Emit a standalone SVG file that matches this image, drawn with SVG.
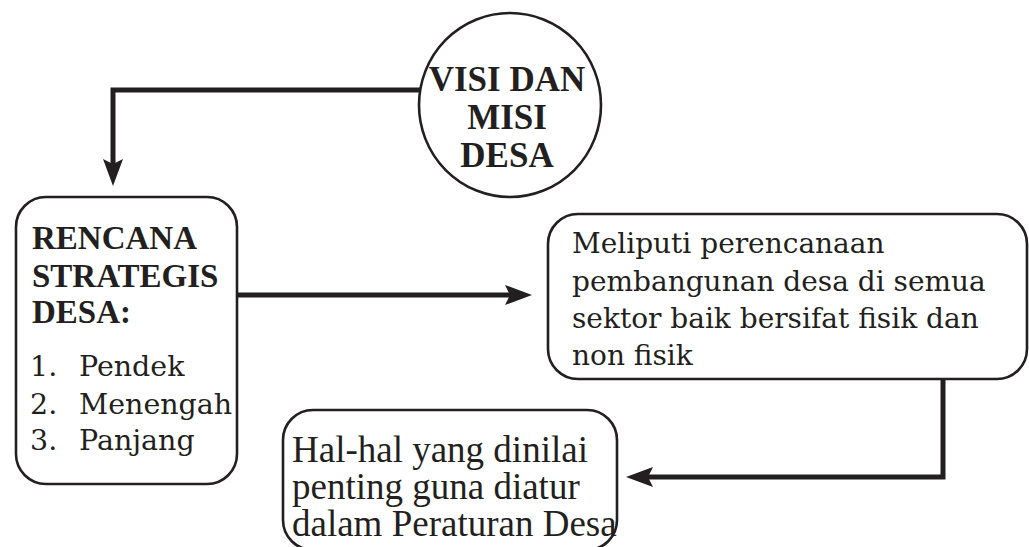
<svg xmlns="http://www.w3.org/2000/svg" width="1029" height="547" viewBox="0 0 1029 547">
<style>
.box{fill:#fff;stroke:#231f20;stroke-width:2.6}
.con{fill:none;stroke:#231f20;stroke-width:5}
.b{font-family:"Liberation Serif",serif;font-weight:bold;fill:#231f20}
.r{font-family:"DejaVu Serif",serif;fill:#231f20}
.t{font-family:"Liberation Serif",serif;fill:#231f20}
</style>
<defs>
<marker id="ah" markerUnits="userSpaceOnUse" markerWidth="40" markerHeight="30" viewBox="-10 -15 40 30" refX="0" refY="0" orient="auto">
<path d="M-5,-10 L22,0 L-5,10 L0,0 Z" fill="#231f20"/>
</marker>
</defs>
<rect width="1029" height="547" fill="#fff"/>
<g id="connectors">
<path class="con" d="M421,90 H113 V164" marker-end="url(#ah)"/>
<path class="con" d="M237,295 H510" marker-end="url(#ah)"/>
<path class="con" d="M943,379 V477 H648" marker-end="url(#ah)"/>
</g>
<g id="visi">
<ellipse class="box" cx="510" cy="105" rx="91" ry="92"/>
<text class="b" font-size="35" text-anchor="middle" x="507" y="91">VISI DAN</text>
<text class="b" font-size="35" text-anchor="middle" x="507" y="129">MISI</text>
<text class="b" font-size="35" text-anchor="middle" x="507" y="167">DESA</text>
</g>
<g id="renstra">
<rect class="box" x="16" y="197" width="221" height="287" rx="30"/>
<text class="b" font-size="33" x="32" y="249">RENCANA</text>
<text class="b" font-size="33" x="32" y="287">STRATEGIS</text>
<text class="b" font-size="33" x="32" y="323">DESA:</text>
<text class="r" font-size="28.5" x="30" y="376">1.</text>
<text class="r" font-size="28.5" x="79" y="376">Pendek</text>
<text class="r" font-size="28.5" x="30" y="414">2.</text>
<text class="r" font-size="28.5" x="79" y="414">Menengah</text>
<text class="r" font-size="28.5" x="30" y="450">3.</text>
<text class="r" font-size="28.5" x="79" y="450">Panjang</text>
</g>
<g id="meliputi">
<rect class="box" x="548" y="214" width="479" height="165" rx="30"/>
<text class="r" font-size="28" x="572" y="253">Meliputi perencanaan</text>
<text class="r" font-size="28" x="572" y="291">pembangunan desa di semua</text>
<text class="r" font-size="28" x="572" y="328">sektor baik bersifat fisik dan</text>
<text class="r" font-size="28" x="572" y="365">non fisik</text>
</g>
<g id="hal">
<rect class="box" x="283" y="410" width="334" height="140" rx="30"/>
<text class="t" font-size="37" x="292" y="462">Hal-hal yang dinilai</text>
<text class="t" font-size="37" x="292" y="499">penting guna diatur</text>
<text class="t" font-size="37" x="292" y="536">dalam Peraturan Desa</text>
</g>
</svg>
